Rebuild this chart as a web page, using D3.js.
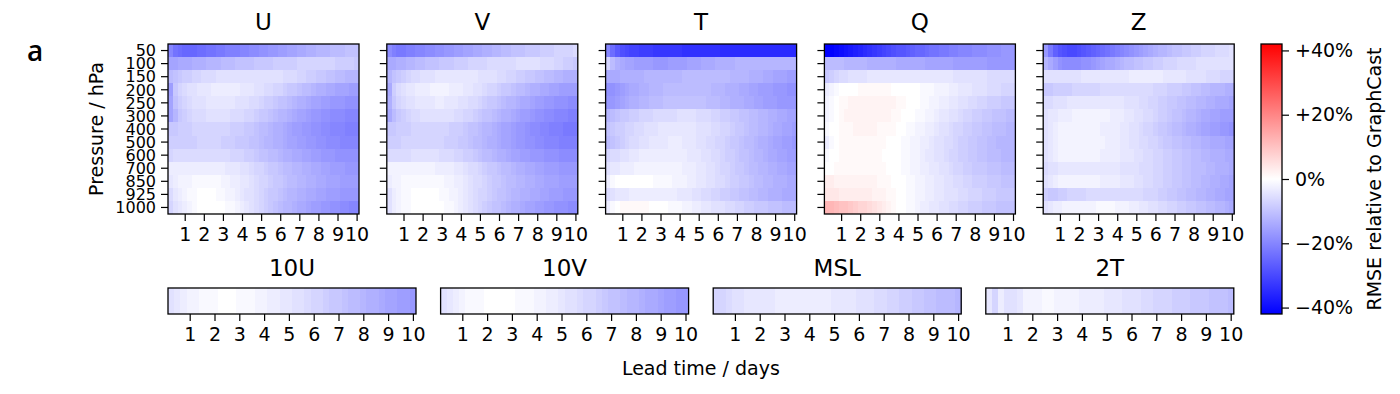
<!DOCTYPE html>
<html>
<head>
<meta charset="utf-8">
<script src="https://cdn.jsdelivr.net/npm/d3@7"></script>
<style>
  body { margin: 0; background: #fff; }
  svg text { font-family: "DejaVu Sans", sans-serif; fill: #000; }
  .axis path.domain { display: none; }
  .axis line { stroke: #000; stroke-width: 1.2; }
</style>
</head>
<body>
<svg id="chart" width="1400" height="394"></svg>
<script>
// pressure levels (hPa) and lead times (days, 6h steps)
const levels = [50, 100, 150, 200, 250, 300, 400, 500, 600, 700, 850, 925, 1000];
const leadTimes = d3.range(1, 41).map(i => i * 0.25);
const dayTicks = [1, 2, 3, 4, 5, 6, 7, 8, 9, 10];
const cbarTicks = [-40, -20, 0, 20, 40];

// RMSE relative to GraphCast (%), rows = levels, cols = lead times
const U = [
  [-20,-23,-24,-25,-25,-25,-24,-24,-23,-23,-22,-22,-21,-21,-21,-20,-20,-19,-19,-18,-18,-17,-17,-16,-16,-15,-15,-14,-14,-13,-13,-12,-12,-12,-11,-11,-11,-10,-10,-10],
  [-15,-15,-14,-14,-14,-13,-13,-13,-12,-12,-12,-11,-11,-11,-10,-10,-10,-10,-9,-9,-9,-9,-8,-8,-8,-8,-8,-7,-7,-7,-7,-7,-7,-7,-7,-8,-8,-8,-8,-9],
  [-11,-10,-9,-8,-8,-7,-7,-6,-6,-6,-5,-5,-5,-5,-5,-5,-5,-5,-5,-5,-5,-5,-5,-5,-6,-6,-6,-7,-7,-8,-8,-9,-9,-10,-10,-11,-11,-12,-12,-12],
  [-16,-9,-7,-6,-5,-5,-4,-4,-4,-3,-3,-3,-3,-3,-3,-4,-4,-4,-5,-5,-6,-6,-7,-7,-8,-9,-9,-10,-11,-11,-12,-13,-13,-14,-14,-15,-15,-15,-16,-16],
  [-15,-10,-8,-7,-6,-5,-5,-5,-4,-4,-4,-4,-4,-4,-5,-5,-5,-6,-6,-7,-8,-8,-9,-10,-10,-11,-12,-13,-13,-14,-15,-15,-16,-16,-17,-17,-17,-18,-18,-18],
  [-15,-12,-9,-8,-7,-6,-6,-6,-5,-5,-5,-5,-5,-6,-6,-6,-7,-7,-8,-9,-9,-10,-11,-12,-12,-13,-14,-15,-15,-16,-17,-17,-18,-18,-19,-19,-19,-20,-20,-20],
  [-9,-9,-8,-8,-8,-7,-7,-7,-7,-7,-7,-7,-7,-8,-8,-8,-9,-9,-10,-11,-11,-12,-13,-13,-14,-15,-16,-16,-17,-17,-18,-18,-19,-19,-20,-20,-20,-21,-21,-21],
  [-8,-8,-8,-8,-8,-8,-7,-7,-7,-7,-7,-8,-8,-8,-9,-9,-9,-10,-10,-11,-12,-12,-13,-13,-14,-15,-15,-16,-16,-17,-17,-18,-18,-19,-19,-19,-20,-20,-20,-20],
  [-7,-6,-6,-6,-6,-6,-6,-6,-6,-6,-6,-6,-6,-7,-7,-7,-8,-8,-9,-10,-10,-11,-11,-12,-13,-13,-14,-14,-15,-15,-16,-16,-17,-17,-17,-18,-18,-18,-18,-18],
  [-3,-3,-3,-3,-3,-3,-3,-3,-3,-3,-3,-3,-4,-4,-4,-5,-5,-6,-7,-7,-8,-9,-9,-10,-11,-11,-12,-12,-13,-13,-14,-14,-15,-15,-16,-16,-16,-17,-17,-17],
  [-4,-3,-2,-2,-2,-1,-1,-1,-1,-1,-1,-2,-2,-3,-3,-4,-4,-5,-6,-7,-7,-8,-9,-9,-10,-11,-11,-12,-12,-13,-13,-14,-14,-15,-15,-15,-16,-16,-16,-16],
  [-6,-4,-3,-2,-1,-1,0,0,0,0,-1,-1,-2,-2,-3,-4,-5,-5,-6,-7,-8,-9,-9,-10,-11,-12,-12,-13,-13,-14,-14,-15,-15,-16,-16,-16,-17,-17,-17,-17],
  [-7,-5,-4,-3,-2,-1,0,0,0,0,0,0,-1,-1,-2,-3,-4,-5,-6,-7,-8,-9,-10,-11,-12,-12,-13,-14,-14,-15,-16,-16,-17,-17,-18,-18,-19,-19,-20,-20]
];
const V = [
  [-19,-21,-22,-22,-21,-21,-20,-20,-19,-19,-18,-18,-17,-17,-16,-16,-15,-15,-14,-14,-13,-13,-12,-12,-11,-11,-10,-10,-10,-9,-9,-9,-8,-8,-8,-7,-7,-7,-7,-6],
  [-14,-14,-13,-13,-12,-12,-11,-11,-10,-10,-10,-9,-9,-9,-8,-8,-8,-7,-7,-7,-7,-6,-6,-6,-6,-6,-6,-5,-5,-5,-5,-5,-6,-6,-6,-7,-7,-8,-8,-9],
  [-12,-10,-9,-8,-7,-6,-6,-5,-5,-5,-4,-4,-4,-4,-4,-4,-4,-4,-4,-5,-5,-5,-5,-6,-6,-7,-7,-8,-8,-9,-9,-10,-10,-11,-11,-12,-12,-13,-13,-13],
  [-14,-8,-6,-5,-4,-4,-3,-3,-3,-2,-2,-2,-2,-3,-3,-3,-4,-4,-5,-5,-6,-7,-7,-8,-9,-9,-10,-11,-11,-12,-13,-13,-14,-14,-15,-15,-16,-16,-16,-16],
  [-13,-9,-7,-6,-5,-5,-4,-4,-4,-4,-3,-3,-4,-4,-4,-5,-5,-6,-6,-7,-8,-9,-9,-10,-11,-12,-12,-13,-14,-14,-15,-16,-16,-17,-17,-18,-18,-18,-19,-19],
  [-14,-11,-9,-8,-7,-6,-6,-5,-5,-5,-5,-5,-5,-5,-6,-6,-7,-7,-8,-9,-10,-10,-11,-12,-13,-13,-14,-15,-16,-16,-17,-18,-18,-19,-19,-20,-20,-20,-21,-21],
  [-9,-9,-8,-8,-8,-7,-7,-7,-7,-7,-7,-7,-7,-8,-8,-8,-9,-10,-10,-11,-12,-12,-13,-14,-15,-15,-16,-17,-17,-18,-19,-19,-20,-20,-21,-21,-21,-22,-22,-22],
  [-8,-8,-8,-7,-7,-7,-7,-7,-7,-7,-7,-7,-8,-8,-8,-9,-9,-10,-11,-11,-12,-13,-13,-14,-15,-15,-16,-17,-17,-18,-18,-19,-19,-20,-20,-20,-21,-21,-21,-21],
  [-6,-6,-6,-6,-6,-5,-5,-5,-5,-5,-5,-6,-6,-6,-7,-7,-8,-8,-9,-10,-11,-11,-12,-13,-13,-14,-15,-15,-16,-16,-17,-17,-17,-18,-18,-18,-19,-19,-19,-19],
  [-2,-2,-2,-2,-2,-2,-2,-2,-2,-2,-3,-3,-3,-3,-4,-4,-5,-6,-6,-7,-8,-9,-9,-10,-11,-11,-12,-13,-13,-14,-14,-15,-15,-16,-16,-16,-17,-17,-17,-17],
  [-3,-2,-2,-1,-1,-1,-1,-1,-1,-1,-1,-1,-2,-2,-3,-3,-4,-5,-6,-6,-7,-8,-9,-9,-10,-11,-11,-12,-12,-13,-13,-14,-14,-15,-15,-15,-16,-16,-16,-16],
  [-5,-3,-2,-1,-1,0,0,0,0,0,0,-1,-1,-2,-2,-3,-4,-5,-6,-7,-7,-8,-9,-10,-10,-11,-12,-12,-13,-13,-14,-14,-15,-15,-16,-16,-16,-17,-17,-17],
  [-5,-3,-2,-1,-1,0,0,0,0,0,0,0,-1,-1,-2,-3,-4,-5,-6,-7,-8,-9,-10,-10,-11,-12,-13,-13,-14,-15,-15,-16,-16,-17,-17,-18,-18,-18,-19,-19]
];
const T = [
  [-20,-24,-27,-29,-30,-31,-31,-32,-32,-32,-33,-33,-33,-33,-33,-33,-34,-34,-34,-34,-34,-34,-34,-34,-35,-35,-35,-35,-35,-35,-35,-35,-35,-35,-35,-35,-35,-35,-35,-35],
  [-7,-11,-13,-14,-15,-15,-16,-16,-16,-16,-17,-17,-17,-16,-16,-16,-16,-15,-15,-15,-14,-14,-14,-13,-13,-13,-13,-12,-12,-12,-12,-12,-12,-12,-12,-12,-12,-12,-12,-12],
  [-14,-14,-14,-13,-13,-13,-13,-13,-12,-12,-12,-12,-12,-12,-12,-12,-11,-11,-11,-11,-11,-11,-11,-11,-11,-11,-12,-12,-12,-12,-13,-13,-13,-14,-14,-15,-15,-15,-16,-16],
  [-18,-18,-17,-16,-15,-14,-14,-13,-13,-12,-12,-12,-11,-11,-11,-11,-11,-11,-11,-11,-11,-11,-12,-12,-12,-13,-13,-13,-14,-14,-15,-15,-16,-16,-16,-17,-17,-17,-18,-18],
  [-17,-17,-16,-15,-14,-13,-13,-12,-12,-11,-11,-11,-10,-10,-10,-10,-10,-10,-10,-10,-10,-11,-11,-11,-12,-12,-13,-13,-13,-14,-14,-15,-15,-16,-16,-16,-17,-17,-17,-17],
  [-12,-11,-10,-9,-9,-8,-8,-7,-7,-7,-6,-6,-6,-6,-6,-5,-5,-5,-5,-6,-6,-6,-7,-7,-8,-8,-9,-9,-10,-10,-11,-11,-12,-12,-13,-13,-14,-14,-15,-15],
  [-10,-9,-8,-8,-7,-7,-6,-6,-5,-5,-5,-4,-4,-4,-4,-4,-4,-4,-4,-5,-5,-5,-6,-6,-7,-7,-8,-9,-9,-10,-11,-11,-12,-12,-13,-14,-14,-15,-15,-16],
  [-11,-10,-9,-8,-7,-6,-6,-5,-5,-4,-4,-4,-4,-3,-3,-3,-4,-4,-4,-5,-5,-6,-6,-7,-7,-8,-9,-9,-10,-11,-11,-12,-13,-13,-14,-15,-15,-16,-16,-17],
  [-7,-6,-6,-5,-5,-4,-4,-3,-3,-3,-3,-3,-3,-3,-3,-3,-3,-4,-4,-4,-5,-5,-6,-6,-7,-8,-8,-9,-10,-10,-11,-12,-12,-13,-14,-14,-15,-15,-16,-16],
  [-5,-4,-4,-3,-3,-3,-2,-2,-2,-2,-2,-2,-2,-2,-2,-2,-3,-3,-3,-4,-4,-5,-5,-6,-7,-7,-8,-9,-9,-10,-11,-11,-12,-12,-13,-13,-14,-14,-15,-15],
  [-3,-1,0,0,0,0,0,0,0,0,-1,-1,-1,-1,-2,-2,-2,-3,-3,-4,-4,-5,-5,-6,-6,-7,-8,-8,-9,-9,-10,-11,-11,-12,-12,-13,-13,-13,-14,-14],
  [-6,-5,-4,-4,-4,-3,-3,-3,-3,-3,-3,-3,-3,-3,-3,-4,-4,-4,-5,-5,-6,-6,-7,-7,-8,-8,-9,-9,-10,-10,-11,-11,-12,-12,-13,-13,-13,-14,-14,-14],
  [-3,-1,0,1,1,1,1,1,1,0,0,0,0,-1,-1,-1,-2,-2,-3,-3,-4,-4,-5,-5,-5,-6,-6,-7,-7,-8,-8,-9,-9,-9,-10,-10,-10,-11,-11,-11]
];
const Q = [
  [-42,-42,-41,-40,-39,-38,-37,-36,-35,-34,-33,-32,-31,-30,-29,-28,-28,-27,-26,-25,-25,-24,-23,-23,-22,-22,-21,-21,-20,-20,-20,-19,-19,-19,-18,-18,-18,-17,-17,-17],
  [-11,-11,-11,-11,-12,-12,-12,-12,-12,-13,-13,-13,-13,-13,-13,-14,-14,-14,-14,-14,-14,-15,-15,-15,-15,-15,-15,-16,-16,-16,-16,-16,-16,-16,-17,-17,-17,-17,-17,-17],
  [-9,-8,-7,-6,-6,-5,-5,-5,-5,-4,-4,-4,-4,-4,-4,-4,-4,-4,-4,-4,-4,-4,-4,-4,-4,-4,-4,-5,-5,-5,-5,-5,-5,-5,-6,-6,-6,-6,-6,-6],
  [-3,-2,-1,0,0,0,0,1,1,1,1,1,1,1,0,0,0,0,0,0,-1,-1,-1,-2,-2,-2,-3,-3,-4,-4,-4,-5,-5,-5,-6,-6,-6,-7,-7,-7],
  [-2,-1,0,1,1,2,2,2,2,2,2,2,2,2,2,1,1,0,0,0,-1,-1,-2,-2,-3,-3,-4,-4,-5,-5,-6,-6,-7,-7,-8,-8,-8,-9,-9,-9],
  [-2,-1,0,1,2,2,2,2,2,2,2,2,2,2,1,1,0,0,0,-1,-1,-2,-2,-3,-4,-4,-5,-5,-6,-7,-7,-8,-8,-9,-9,-10,-10,-10,-11,-11],
  [-1,0,0,1,1,1,2,2,2,2,2,1,1,1,1,0,0,-1,-1,-2,-2,-3,-3,-4,-5,-5,-6,-7,-7,-8,-8,-9,-9,-10,-10,-11,-11,-11,-12,-12],
  [-3,-1,0,1,1,1,1,1,1,1,1,1,1,0,0,0,-1,-1,-2,-2,-3,-3,-4,-5,-5,-6,-6,-7,-8,-8,-9,-9,-10,-10,-11,-11,-12,-12,-12,-12],
  [-1,0,0,1,1,1,1,1,1,1,1,1,0,0,0,0,-1,-1,-2,-2,-3,-4,-4,-5,-5,-6,-7,-7,-8,-8,-9,-9,-10,-10,-11,-11,-11,-12,-12,-12],
  [0,0,1,1,1,1,1,1,1,1,1,1,1,0,0,0,-1,-1,-2,-2,-3,-3,-4,-4,-5,-5,-6,-7,-7,-8,-8,-9,-9,-9,-10,-10,-10,-11,-11,-11],
  [3,3,2,2,2,2,2,2,2,2,2,1,1,1,0,0,0,-1,-1,-2,-2,-3,-3,-4,-4,-5,-5,-6,-6,-7,-7,-8,-8,-8,-9,-9,-9,-10,-10,-10],
  [4,4,4,3,3,3,3,3,3,3,2,2,2,1,1,0,0,-1,-1,-2,-2,-3,-3,-4,-4,-5,-5,-5,-6,-6,-7,-7,-7,-8,-8,-8,-9,-9,-9,-9],
  [12,12,11,10,10,9,8,7,7,6,5,4,3,2,1,0,0,-1,-1,-2,-3,-3,-4,-4,-5,-5,-6,-6,-7,-7,-8,-8,-8,-9,-9,-9,-10,-10,-10,-10]
];
const Z = [
  [-17,-22,-26,-28,-29,-30,-30,-29,-28,-27,-26,-25,-24,-23,-22,-21,-20,-19,-18,-17,-16,-15,-14,-13,-12,-12,-11,-10,-10,-9,-9,-8,-8,-7,-7,-7,-6,-6,-6,-5],
  [-12,-14,-16,-18,-19,-19,-19,-19,-18,-18,-17,-16,-15,-14,-14,-13,-12,-11,-11,-10,-10,-9,-9,-8,-8,-7,-7,-7,-6,-6,-6,-6,-5,-5,-5,-5,-5,-5,-5,-5],
  [-5,-5,-5,-5,-5,-5,-5,-5,-4,-4,-4,-4,-4,-4,-4,-4,-4,-4,-3,-3,-3,-3,-3,-3,-3,-4,-4,-4,-4,-4,-5,-5,-5,-5,-6,-6,-6,-7,-7,-7],
  [-9,-9,-8,-8,-8,-8,-7,-7,-7,-7,-7,-7,-6,-6,-6,-6,-6,-6,-6,-6,-6,-6,-6,-7,-7,-7,-8,-8,-8,-9,-9,-10,-10,-11,-11,-12,-12,-12,-13,-13],
  [-6,-6,-5,-5,-5,-4,-4,-4,-4,-4,-4,-4,-4,-4,-4,-4,-4,-5,-5,-5,-6,-6,-7,-7,-8,-8,-9,-9,-10,-10,-11,-11,-12,-12,-13,-13,-14,-14,-14,-15],
  [-5,-4,-4,-3,-3,-3,-2,-2,-2,-2,-2,-2,-2,-2,-3,-3,-3,-4,-4,-5,-5,-6,-6,-7,-8,-8,-9,-10,-10,-11,-12,-12,-13,-14,-14,-15,-15,-16,-16,-16],
  [-5,-4,-3,-2,-2,-2,-2,-2,-2,-2,-2,-2,-3,-3,-3,-3,-4,-4,-5,-5,-6,-7,-7,-8,-9,-9,-10,-11,-11,-12,-13,-13,-14,-15,-15,-16,-16,-17,-17,-18],
  [-5,-4,-3,-2,-2,-2,-2,-2,-2,-2,-2,-2,-2,-3,-3,-3,-4,-4,-5,-5,-6,-6,-7,-7,-8,-9,-9,-10,-10,-11,-11,-12,-12,-13,-13,-14,-14,-14,-15,-15],
  [-5,-4,-3,-2,-2,-2,-2,-2,-2,-2,-2,-2,-3,-3,-3,-3,-4,-4,-4,-5,-5,-6,-6,-7,-7,-8,-8,-9,-9,-10,-10,-11,-11,-12,-12,-13,-13,-13,-14,-14],
  [-6,-5,-5,-4,-4,-4,-4,-4,-4,-4,-4,-4,-4,-4,-4,-4,-5,-5,-5,-5,-6,-6,-6,-7,-7,-8,-8,-9,-9,-10,-10,-11,-11,-11,-12,-12,-13,-13,-13,-14],
  [-5,-4,-3,-2,-2,-2,-2,-2,-2,-2,-2,-2,-3,-3,-3,-3,-4,-4,-4,-5,-5,-6,-6,-7,-7,-8,-8,-9,-9,-10,-10,-11,-11,-12,-12,-13,-13,-14,-14,-15],
  [-8,-9,-9,-8,-8,-7,-7,-7,-7,-6,-6,-6,-6,-6,-6,-6,-6,-6,-6,-6,-6,-7,-7,-7,-8,-8,-9,-9,-10,-10,-11,-11,-12,-12,-13,-13,-14,-14,-15,-15],
  [-5,-4,-3,-3,-2,-2,-2,-2,-2,-2,-2,-1,-1,-1,-1,-2,-2,-2,-3,-3,-4,-4,-5,-5,-6,-6,-7,-7,-8,-8,-9,-9,-10,-10,-11,-11,-12,-12,-13,-14]
];
// surface variables
const U10 = [-5,-4,-3,-2,-2,-1,-1,-1,0,0,0,-1,-1,-1,-2,-2,-3,-3,-4,-4,-5,-5,-6,-7,-7,-8,-9,-9,-10,-11,-11,-12,-13,-13,-14,-15,-15,-16,-16,-17];
const V10 = [-5,-4,-3,-2,-1,-1,-1,0,0,0,0,0,-1,-1,-1,-2,-2,-3,-3,-4,-5,-5,-6,-7,-7,-8,-9,-10,-10,-11,-12,-12,-13,-14,-14,-15,-16,-16,-17,-17];
const MSL = [-7,-7,-6,-5,-5,-4,-4,-4,-4,-4,-3,-3,-3,-3,-3,-3,-3,-3,-3,-4,-4,-4,-4,-5,-5,-5,-6,-6,-7,-7,-8,-8,-9,-9,-10,-10,-11,-11,-11,-12];
const T2 = [-4,-7,-3,-5,-5,-4,-2,-2,-2,-1,-1,-2,-2,-2,-2,-3,-3,-3,-3,-4,-4,-4,-5,-5,-5,-6,-6,-7,-7,-7,-8,-8,-8,-9,-9,-9,-10,-10,-10,-11];

const atmosVars = [
  {name: 'U', values: U}, {name: 'V', values: V}, {name: 'T', values: T},
  {name: 'Q', values: Q}, {name: 'Z', values: Z}
];
const surfVars = [
  {name: '10U', values: U10}, {name: '10V', values: V10},
  {name: 'MSL', values: MSL}, {name: '2T', values: T2}
];

// layout
const topRow = {x0: 168, dx: 218.8, w: 191, y: 44, h: 170};
const botRow = {x0: 168, dx: 272.6, w: 248, y: 288, h: 26};
const cbar = {x: 1261, w: 21, y: 44, h: 270};
const vmax = 42;

const svg = d3.select('#chart');
const color = d3.scaleLinear().domain([-vmax, 0, vmax]).range(['#0000ff', '#ffffff', '#ff0000']);

function leadScale(w) {
  return d3.scaleLinear().domain([0.125, 10.125]).range([0, w]);
}

/**********************************************************************
 * pressure-level panels
 **********************************************************************/
atmosVars.forEach((v, i) => {
  const g = svg.append('g')
    .attr('transform', 'translate(' + (topRow.x0 + i * topRow.dx) + ',' + topRow.y + ')');
  const x = leadScale(topRow.w);
  const y = d3.scaleBand().domain(levels).range([0, topRow.h]);
  const cw = x(0.25) - x(0);

  const cells = [];
  v.values.forEach((row, r) => row.forEach((val, c) => cells.push({lev: levels[r], t: leadTimes[c], val})));
  g.selectAll('.cell').data(cells).enter().append('rect')
    .attr('class', 'cell')
    .attr('x', d => x(d.t) - cw / 2)
    .attr('y', d => y(d.lev))
    .attr('width', cw + 0.4)
    .attr('height', y.bandwidth() + 0.4)
    .attr('shape-rendering', 'crispEdges')
    .style('fill', d => color(d.val));

  g.append('rect')
    .attr('width', topRow.w).attr('height', topRow.h)
    .style('fill', 'none').style('stroke', '#000').style('stroke-width', 1.3);

  g.append('g').attr('class', 'axis')
    .attr('transform', 'translate(0,' + topRow.h + ')')
    .call(d3.axisBottom(x).tickValues(dayTicks).tickSize(7).tickPadding(7))
    .selectAll('text').style('font-size', '19px');

  const ya = g.append('g').attr('class', 'axis')
    .call(d3.axisLeft(y).tickSize(7).tickPadding(5));
  ya.selectAll('text').style('font-size', '16px').attr('dy', '0.36em');
  if (i > 0) ya.selectAll('text').remove();

  g.append('text')
    .attr('x', topRow.w / 2).attr('y', -14)
    .attr('text-anchor', 'middle')
    .style('font-size', '23px')
    .text(v.name);
});

/**********************************************************************
 * surface panels
 **********************************************************************/
surfVars.forEach((v, i) => {
  const g = svg.append('g')
    .attr('transform', 'translate(' + (botRow.x0 + i * botRow.dx) + ',' + botRow.y + ')');
  const x = leadScale(botRow.w);
  const cw = x(0.25) - x(0);

  g.selectAll('.cell').data(v.values).enter().append('rect')
    .attr('class', 'cell')
    .attr('x', (d, c) => x(leadTimes[c]) - cw / 2)
    .attr('y', 0)
    .attr('width', cw + 0.4)
    .attr('height', botRow.h)
    .attr('shape-rendering', 'crispEdges')
    .style('fill', d => color(d));

  g.append('rect')
    .attr('width', botRow.w).attr('height', botRow.h)
    .style('fill', 'none').style('stroke', '#000').style('stroke-width', 1.3);

  g.append('g').attr('class', 'axis')
    .attr('transform', 'translate(0,' + botRow.h + ')')
    .call(d3.axisBottom(x).tickValues(dayTicks).tickSize(7).tickPadding(7))
    .selectAll('text').style('font-size', '19px');

  g.append('text')
    .attr('x', botRow.w / 2).attr('y', -12)
    .attr('text-anchor', 'middle')
    .style('font-size', '23px')
    .text(v.name);
});

/**********************************************************************
 * colorbar
 **********************************************************************/
const cy = d3.scaleLinear().domain([-vmax, vmax]).range([cbar.y + cbar.h, cbar.y]);
const grad = svg.append('defs').append('linearGradient')
  .attr('id', 'bwr').attr('x1', 0).attr('y1', 1).attr('x2', 0).attr('y2', 0);
grad.selectAll('stop').data([-vmax, 0, vmax]).enter().append('stop')
  .attr('offset', (d, k) => k / 2)
  .attr('stop-color', d => color(d));
svg.append('rect')
  .attr('x', cbar.x).attr('y', cbar.y).attr('width', cbar.w).attr('height', cbar.h)
  .style('fill', 'url(#bwr)').style('stroke', '#000').style('stroke-width', 1.3);
svg.append('g').attr('class', 'axis')
  .attr('transform', 'translate(' + (cbar.x + cbar.w) + ',0)')
  .call(d3.axisRight(cy).tickValues(cbarTicks).tickSize(7).tickPadding(6)
    .tickFormat(d => (d > 0 ? '+' : d < 0 ? '\u2212' : '') + Math.abs(d) + '%'))
  .selectAll('text').style('font-size', '19px');

/**********************************************************************
 * labels
 **********************************************************************/
svg.append('text')
  .attr('transform', 'translate(103,' + (topRow.y + topRow.h / 2) + ') rotate(-90)')
  .attr('text-anchor', 'middle')
  .style('font-size', '19px')
  .text('Pressure / hPa');
svg.append('text')
  .attr('x', (botRow.x0 + botRow.x0 + 3 * botRow.dx + botRow.w) / 2).attr('y', 375)
  .attr('text-anchor', 'middle')
  .style('font-size', '19px')
  .text('Lead time / days');
svg.append('text')
  .attr('transform', 'translate(1381,' + (cbar.y + cbar.h / 2) + ') rotate(-90)')
  .attr('text-anchor', 'middle')
  .style('font-size', '19px')
  .text('RMSE relative to GraphCast');
svg.append('text')
  .attr('x', 27).attr('y', 61)
  .style('font-family', '"Open Sans", sans-serif')
  .style('font-size', '28px')
  .style('font-weight', 600)
  .text('a');
</script>
</body>
</html>
